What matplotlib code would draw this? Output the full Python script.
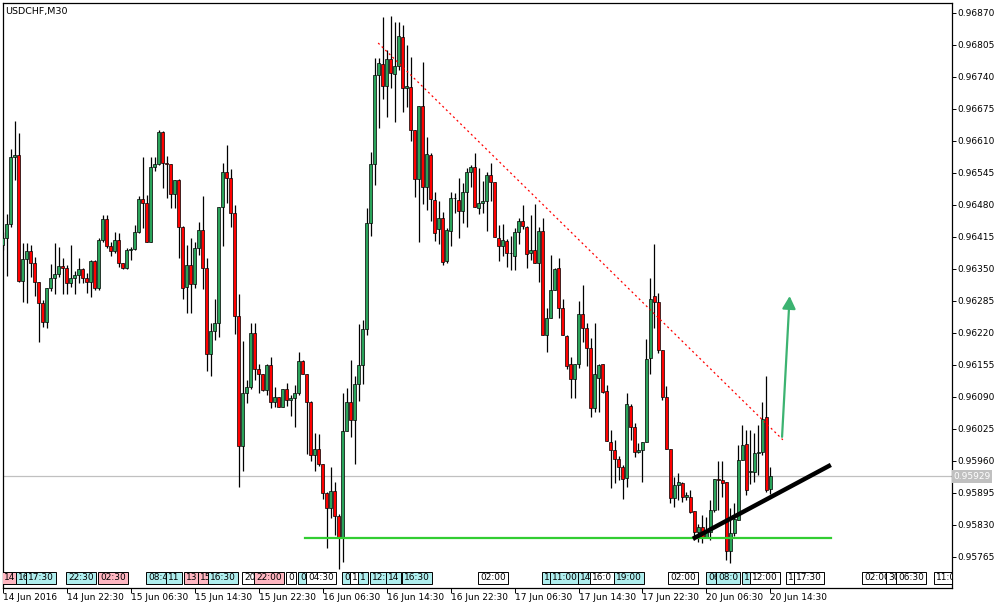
import numpy as np
import matplotlib.pyplot as plt
from matplotlib.transforms import blended_transform_factory

symbol = "USDCHF,M30"

# M30 bars, first visible bar = 14 Jun 2016 14:30
opens = [0.96399, 0.96412, 0.96441, 0.96577, 0.96582, 0.96326, 0.96370, 0.96386, 0.96362, 0.96323,
         0.96280, 0.96242, 0.96311, 0.96331, 0.96339, 0.96356, 0.96353, 0.96321, 0.96331, 0.96338,
         0.96350, 0.96332, 0.96324, 0.96366, 0.96312, 0.96409, 0.96452, 0.96397, 0.96387, 0.96409,
         0.96362, 0.96351, 0.96389, 0.96390, 0.96425, 0.96492, 0.96485, 0.96405, 0.96557, 0.96563,
         0.96628, 0.96565, 0.96563, 0.96502, 0.96531, 0.96435, 0.96313, 0.96358, 0.96319, 0.96393,
         0.96429, 0.96353, 0.96177, 0.96224, 0.96240, 0.96475, 0.96546, 0.96534, 0.96463, 0.96255,
         0.95990, 0.96098, 0.96111, 0.96219, 0.96146, 0.96136, 0.96104, 0.96155, 0.96079, 0.96089,
         0.96070, 0.96106, 0.96084, 0.96087, 0.96098, 0.96163, 0.96136, 0.96080, 0.95972, 0.95984,
         0.95954, 0.95894, 0.95864, 0.95900, 0.95849, 0.95803, 0.96021, 0.96079, 0.96043, 0.96116,
         0.96155, 0.96228, 0.96443, 0.96563, 0.96744, 0.96766, 0.96722, 0.96776, 0.96746, 0.96763,
         0.96821, 0.96717, 0.96719, 0.96632, 0.96532, 0.96682, 0.96516, 0.96582, 0.96490, 0.96431,
         0.96453, 0.96367, 0.96427, 0.96494, 0.96490, 0.96468, 0.96506, 0.96548, 0.96557, 0.96473,
         0.96485, 0.96489, 0.96541, 0.96526, 0.96412, 0.96397, 0.96407, 0.96382, 0.96377, 0.96426,
         0.96448, 0.96435, 0.96382, 0.96389, 0.96362, 0.96427, 0.96215, 0.96250, 0.96307, 0.96351,
         0.96270, 0.96214, 0.96157, 0.96127, 0.96158, 0.96258, 0.96230, 0.96190, 0.96067, 0.96129,
         0.96157, 0.96102, 0.95998, 0.95982, 0.95965, 0.95947, 0.95925, 0.96072, 0.96029, 0.95978,
         0.95982, 0.95998, 0.96169, 0.96295, 0.96282, 0.96185, 0.96089, 0.95984, 0.95884, 0.95911,
         0.95915, 0.95887, 0.95887, 0.95858, 0.95815, 0.95825, 0.95806, 0.95816, 0.95860, 0.95923,
         0.95921, 0.95917, 0.95778, 0.95813, 0.95840, 0.95963, 0.95995, 0.95937, 0.95938, 0.95976,
         0.95979, 0.96049, 0.95904]
highs = [0.96425, 0.96461, 0.96593, 0.96651, 0.96626, 0.96402, 0.96402, 0.96399, 0.96375, 0.96323,
         0.96287, 0.96311, 0.96360, 0.96402, 0.96395, 0.96372, 0.96358, 0.96398, 0.96345, 0.96372,
         0.96351, 0.96341, 0.96368, 0.96368, 0.96412, 0.96460, 0.96460, 0.96405, 0.96426, 0.96423,
         0.96362, 0.96392, 0.96395, 0.96439, 0.96499, 0.96578, 0.96500, 0.96578, 0.96578, 0.96632,
         0.96630, 0.96580, 0.96563, 0.96531, 0.96532, 0.96437, 0.96399, 0.96412, 0.96405, 0.96446,
         0.96498, 0.96372, 0.96240, 0.96289, 0.96476, 0.96565, 0.96602, 0.96553, 0.96480, 0.96299,
         0.96204, 0.96125, 0.96240, 0.96240, 0.96158, 0.96136, 0.96158, 0.96171, 0.96110, 0.96089,
         0.96106, 0.96118, 0.96094, 0.96114, 0.96182, 0.96165, 0.96136, 0.96081, 0.96017, 0.96015,
         0.95954, 0.95897, 0.95948, 0.95917, 0.95852, 0.96099, 0.96108, 0.96165, 0.96133, 0.96238,
         0.96246, 0.96473, 0.96588, 0.96778, 0.96779, 0.96861, 0.96795, 0.96864, 0.96852, 0.96852,
         0.96846, 0.96805, 0.96781, 0.96632, 0.96682, 0.96771, 0.96619, 0.96585, 0.96507, 0.96488,
         0.96466, 0.96433, 0.96507, 0.96505, 0.96534, 0.96525, 0.96555, 0.96561, 0.96586, 0.96555,
         0.96529, 0.96546, 0.96565, 0.96527, 0.96439, 0.96441, 0.96410, 0.96417, 0.96434, 0.96453,
         0.96480, 0.96438, 0.96460, 0.96481, 0.96436, 0.96453, 0.96270, 0.96378, 0.96353, 0.96372,
         0.96289, 0.96215, 0.96172, 0.96158, 0.96284, 0.96317, 0.96241, 0.96209, 0.96240, 0.96158,
         0.96158, 0.96114, 0.96023, 0.96003, 0.95970, 0.95952, 0.96098, 0.96075, 0.96037, 0.95996,
         0.95998, 0.96208, 0.96332, 0.96400, 0.96302, 0.96186, 0.96112, 0.95984, 0.95928, 0.95935,
         0.95918, 0.95898, 0.95901, 0.95858, 0.95833, 0.95850, 0.95847, 0.95881, 0.95923, 0.95959,
         0.95959, 0.95917, 0.95864, 0.95874, 0.95992, 0.96033, 0.96023, 0.96023, 0.96016, 0.96033,
         0.96079, 0.96133, 0.95948]
lows = [0.96389, 0.96336, 0.96436, 0.96531, 0.96324, 0.96282, 0.96280, 0.96334, 0.96296, 0.96202,
        0.96232, 0.96231, 0.96306, 0.96299, 0.96334, 0.96299, 0.96299, 0.96314, 0.96299, 0.96322,
        0.96321, 0.96302, 0.96293, 0.96307, 0.96307, 0.96405, 0.96393, 0.96376, 0.96382, 0.96355,
        0.96350, 0.96350, 0.96368, 0.96389, 0.96423, 0.96433, 0.96405, 0.96405, 0.96550, 0.96561,
        0.96514, 0.96495, 0.96473, 0.96473, 0.96372, 0.96290, 0.96261, 0.96261, 0.96311, 0.96378,
        0.96309, 0.96143, 0.96133, 0.96206, 0.96212, 0.96397, 0.96485, 0.96436, 0.96217, 0.95908,
        0.95940, 0.96078, 0.96106, 0.96125, 0.96098, 0.96103, 0.96094, 0.96067, 0.96070, 0.96070,
        0.96070, 0.96072, 0.96052, 0.96030, 0.96094, 0.96136, 0.95974, 0.95959, 0.95940, 0.95950,
        0.95882, 0.95783, 0.95844, 0.95810, 0.95741, 0.95754, 0.96021, 0.96009, 0.95953, 0.96082,
        0.96116, 0.96215, 0.96417, 0.96521, 0.96636, 0.96695, 0.96659, 0.96717, 0.96649, 0.96754,
        0.96668, 0.96680, 0.96609, 0.96496, 0.96404, 0.96483, 0.96470, 0.96447, 0.96407, 0.96401,
        0.96358, 0.96363, 0.96397, 0.96463, 0.96412, 0.96443, 0.96435, 0.96516, 0.96475, 0.96461,
        0.96464, 0.96428, 0.96489, 0.96414, 0.96367, 0.96376, 0.96355, 0.96347, 0.96347, 0.96401,
        0.96431, 0.96353, 0.96368, 0.96362, 0.96323, 0.96215, 0.96182, 0.96250, 0.96307, 0.96250,
        0.96215, 0.96147, 0.96087, 0.96087, 0.96148, 0.96201, 0.96152, 0.96049, 0.96059, 0.96059,
        0.96098, 0.96001, 0.95905, 0.95915, 0.95921, 0.95882, 0.95908, 0.96003, 0.95968, 0.95976,
        0.95917, 0.95998, 0.96137, 0.96231, 0.96180, 0.96084, 0.95984, 0.95874, 0.95866, 0.95881,
        0.95876, 0.95881, 0.95854, 0.95800, 0.95796, 0.95794, 0.95806, 0.95800, 0.95857, 0.95860,
        0.95887, 0.95759, 0.95752, 0.95808, 0.95840, 0.95963, 0.95891, 0.95914, 0.95918, 0.95932,
        0.95972, 0.95897, 0.95893]
closes = [0.96412, 0.96441, 0.96577, 0.96582, 0.96326, 0.96370, 0.96386, 0.96362, 0.96323, 0.96280,
          0.96242, 0.96311, 0.96331, 0.96339, 0.96356, 0.96353, 0.96321, 0.96331, 0.96338, 0.96350,
          0.96332, 0.96324, 0.96366, 0.96312, 0.96409, 0.96452, 0.96397, 0.96387, 0.96409, 0.96362,
          0.96351, 0.96389, 0.96390, 0.96425, 0.96492, 0.96485, 0.96405, 0.96557, 0.96563, 0.96628,
          0.96565, 0.96563, 0.96502, 0.96531, 0.96435, 0.96311, 0.96358, 0.96319, 0.96393, 0.96429,
          0.96353, 0.96177, 0.96224, 0.96240, 0.96475, 0.96546, 0.96534, 0.96463, 0.96255, 0.95990,
          0.96098, 0.96111, 0.96219, 0.96146, 0.96136, 0.96104, 0.96155, 0.96079, 0.96089, 0.96070,
          0.96106, 0.96084, 0.96087, 0.96098, 0.96163, 0.96136, 0.96080, 0.95972, 0.95984, 0.95954,
          0.95894, 0.95864, 0.95900, 0.95849, 0.95803, 0.96021, 0.96079, 0.96043, 0.96116, 0.96155,
          0.96228, 0.96443, 0.96563, 0.96744, 0.96768, 0.96722, 0.96776, 0.96748, 0.96763, 0.96823,
          0.96717, 0.96722, 0.96632, 0.96532, 0.96682, 0.96516, 0.96583, 0.96492, 0.96424, 0.96453,
          0.96365, 0.96429, 0.96494, 0.96495, 0.96468, 0.96506, 0.96548, 0.96557, 0.96475, 0.96485,
          0.96489, 0.96541, 0.96527, 0.96414, 0.96397, 0.96409, 0.96382, 0.96383, 0.96425, 0.96448,
          0.96438, 0.96380, 0.96389, 0.96362, 0.96427, 0.96215, 0.96250, 0.96307, 0.96350, 0.96270,
          0.96215, 0.96152, 0.96127, 0.96158, 0.96258, 0.96230, 0.96190, 0.96067, 0.96136, 0.96154,
          0.96101, 0.96001, 0.95982, 0.95965, 0.95947, 0.95923, 0.96075, 0.96030, 0.95978, 0.95982,
          0.95998, 0.96167, 0.96290, 0.96283, 0.96185, 0.96089, 0.95984, 0.95884, 0.95911, 0.95918,
          0.95887, 0.95890, 0.95857, 0.95816, 0.95825, 0.95806, 0.95816, 0.95860, 0.95923, 0.95922,
          0.95915, 0.95778, 0.95813, 0.95842, 0.95963, 0.95992, 0.95902, 0.95939, 0.95976, 0.95979,
          0.96045, 0.95902, 0.95929]

time_tick_bars = [0, 16, 32, 48, 64, 80, 96, 112, 128, 144, 160, 176, 192]
time_tick_labels = ["14 Jun 2016", "14 Jun 22:30", "15 Jun 06:30", "15 Jun 14:30",
                    "15 Jun 22:30", "16 Jun 06:30", "16 Jun 14:30", "16 Jun 22:30",
                    "17 Jun 06:30", "17 Jun 14:30", "17 Jun 22:30", "20 Jun 06:30",
                    "20 Jun 14:30"]
price_ticks = [0.96870, 0.96805, 0.96740, 0.96675, 0.96610, 0.96545, 0.96480, 0.96415, 0.96350,
               0.96285, 0.96220, 0.96155, 0.96090, 0.96025, 0.95960, 0.95895, 0.95830, 0.95765]
current_price = 0.95929

# drawn objects (bar index, price)
resist_bars = [93.9, 195.1]
resist_prices = [0.96809, 0.96003]
support_bars = [75.6, 207.1]
support_prices = [0.95804, 0.95804]
trend_bars = [172.6, 207.1]
trend_prices = [0.95802, 0.95952]
arrow_bars = [194.9, 196.8]
arrow_prices = [0.96009, 0.96295]

# calendar events on the time line: bar, label, importance colour
event_bars = [0, 3.5, 6, 16, 24, 36, 41, 45.5, 49, 51.5, 60, 63, 71, 74, 76, 85, 87, 89, 92,
              96, 100, 119, 135, 137, 144, 147, 153, 166.5, 176, 178.5, 185, 187, 196, 198,
              215, 221, 223.5, 233]
event_labels = ["14", "16", "17:30", "22:30", "02:30", "08:4", "11", "13", "15", "16:30", "20",
                "22:00", "0", "0", "04:30", "0", "1", "1", "12:", "14", "16:30", "02:00", "1",
                "11:00", "14", "16:0", "19:00", "02:00", "06", "08:0", "1", "12:00", "1",
                "17:30", "02:00", "30", "06:30", "11:0"]
event_kinds = ["p", "c", "c", "c", "p", "c", "c", "p", "p", "c", "w", "p", "w", "c", "w", "c",
               "w", "c", "c", "c", "c", "w", "c", "c", "c", "w", "c", "w", "c", "c", "c", "w",
               "w", "w", "w", "w", "w", "w"]
kind_colors = {"c": "#AFEEEE", "p": "#FFB6C1", "w": "white"}

green = "#2AA35A"
red = "#FF0000"

fig = plt.figure(figsize=(10.05, 6.09), dpi=100)
ax = fig.add_axes([2.7 / 1005, 21 / 609, 949.3 / 1005, 585 / 609])

# candles
x = np.arange(len(closes))
o = np.array(opens)
c = np.array(closes)
ax.vlines(x, lows, highs, color="black", lw=0.9, zorder=3)
body_bottom = np.minimum(o, c)
body_height = np.maximum(np.abs(c - o), 0.000005)
body_colors = np.where(c > o, green, np.where(c < o, red, "black"))
ax.bar(x, body_height, bottom=body_bottom, width=0.72, color=body_colors,
       edgecolor="black", linewidth=0.5, zorder=4)

# current price line
ax.axhline(current_price, color="#C0C0C0", lw=0.9, zorder=1)

# objects
ax.plot(resist_bars, resist_prices, color="red", lw=0.9, linestyle=(0, (1.6, 2.4)), zorder=5)
ax.plot(support_bars, support_prices, color="#32CD32", lw=1.6, zorder=5)
ax.plot(trend_bars, trend_prices, color="black", lw=3.2, solid_capstyle="butt", zorder=6)
ax.annotate("", xy=(arrow_bars[1], arrow_prices[1]), xytext=(arrow_bars[0], arrow_prices[0]),
            arrowprops=dict(arrowstyle="-|>,head_length=0.75,head_width=0.4",
                            color="#3CB371", lw=1.6, shrinkA=0, shrinkB=0), zorder=6)

# axes limits and ticks
ax.set_xlim(0.05, 237.4)
ax.set_ylim(0.95702, 0.968903)
ax.yaxis.tick_right()
ax.set_yticks(price_ticks)
ax.set_yticklabels(["%.5f" % p for p in price_ticks])
ax.set_xticks(time_tick_bars)
ax.set_xticklabels(time_tick_labels)
for lbl in ax.get_xticklabels():
    lbl.set_horizontalalignment("left")
ax.tick_params(axis="y", direction="out", length=2.9, width=0.7, pad=0.8, labelsize=6.5)
ax.tick_params(axis="x", direction="out", length=3.4, width=0.7, pad=0.0, labelsize=6.5)
for s in ax.spines.values():
    s.set_linewidth(0.9)

# current price tag on the price scale
tag_tr = blended_transform_factory(ax.transAxes, ax.transData)
ax.text(1.0015, current_price, "%.5f" % current_price, transform=tag_tr, fontsize=6.5,
        color="white", va="center", ha="left", clip_on=False, zorder=10,
        bbox=dict(boxstyle="square,pad=0.2", fc="#C0C0C0", ec="none"))

# economic calendar markers
ev_tr = blended_transform_factory(ax.transData, ax.transAxes)
for b, lab, k in zip(event_bars, event_labels, event_kinds):
    ax.text(b + 0.4, 0.0171, lab, transform=ev_tr, fontsize=6.5, va="center", ha="left",
            zorder=8, clip_on=True,
            bbox=dict(boxstyle="square,pad=0.2", fc=kind_colors[k], ec="black", lw=0.7))

ax.text(0.0025, 0.994, symbol, transform=ax.transAxes, fontsize=6.8, va="top", ha="left")

fig.savefig("out.png", dpi=100)
